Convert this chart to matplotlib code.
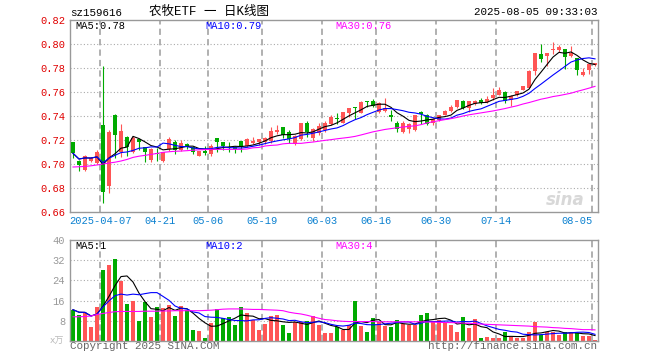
import matplotlib
matplotlib.use("Agg")
import matplotlib.pyplot as plt
import pandas as pd

plt.rcParams['lines.scale_dashes'] = False

W, H = 660, 360
MONO = ['Liberation Mono', 'DejaVu Sans Mono']
RED = '#ff5555'
GREEN = '#00aa00'
GRID = '#aaaaaa'

# candle index of the labelled dates (first candle = 2025-03-28)
date_ticks = [5, 15, 23, 32, 42, 51, 61, 71, 87]
date_labels = ['2025-04-07', '04-21', '05-06', '05-19', '06-03', '06-16', '06-30', '07-14', '08-05']

opens = [0.7183, 0.7028, 0.6953, 0.7028, 0.7006, 0.7327, 0.6820, 0.7410, 0.7100, 0.7225,
         0.7100, 0.7208, 0.7140, 0.7033, 0.7092, 0.7028, 0.7125, 0.7180, 0.7117, 0.7167,
         0.7140, 0.7069, 0.7110, 0.7083, 0.7214, 0.7183, 0.7144, 0.7139, 0.7192, 0.7150,
         0.7175, 0.7183, 0.7183, 0.7192, 0.7267, 0.7308, 0.7267, 0.7167, 0.7210, 0.7344,
         0.7215, 0.7255, 0.7280, 0.7333, 0.7383, 0.7344, 0.7428, 0.7475, 0.7428, 0.7522,
         0.7528, 0.7433, 0.7444, 0.7411, 0.7339, 0.7268, 0.7294, 0.7280, 0.7436, 0.7408,
         0.7339, 0.7365, 0.7408, 0.7439, 0.7475, 0.7528, 0.7467, 0.7503, 0.7536, 0.7514,
         0.7550, 0.7578, 0.7603, 0.7536, 0.7572, 0.7620, 0.7633, 0.7772, 0.7917, 0.7897,
         0.7947, 0.7953, 0.7958, 0.7900, 0.7883, 0.7744, 0.7780, 0.7825]
highs = [0.7185, 0.7030, 0.7072, 0.7060, 0.7117, 0.7818, 0.7285, 0.7420, 0.7333, 0.7235,
         0.7230, 0.7210, 0.7142, 0.7135, 0.7133, 0.7100, 0.7228, 0.7197, 0.7200, 0.7175,
         0.7145, 0.7112, 0.7150, 0.7167, 0.7216, 0.7185, 0.7183, 0.7150, 0.7194, 0.7214,
         0.7222, 0.7208, 0.7222, 0.7311, 0.7322, 0.7310, 0.7283, 0.7244, 0.7344, 0.7360,
         0.7300, 0.7345, 0.7360, 0.7408, 0.7422, 0.7433, 0.7470, 0.7478, 0.7528, 0.7524,
         0.7544, 0.7517, 0.7550, 0.7450, 0.7361, 0.7361, 0.7339, 0.7411, 0.7438, 0.7420,
         0.7380, 0.7411, 0.7447, 0.7494, 0.7536, 0.7531, 0.7525, 0.7533, 0.7550, 0.7570,
         0.7633, 0.7642, 0.7606, 0.7578, 0.7611, 0.7650, 0.7781, 0.7925, 0.8000, 0.7925,
         0.8014, 0.7989, 0.7960, 0.7981, 0.7886, 0.7800, 0.7842, 0.7842]
lows = [0.7047, 0.6944, 0.6945, 0.7020, 0.7000, 0.6678, 0.6762, 0.7050, 0.7060, 0.7070,
        0.7090, 0.7115, 0.7015, 0.7020, 0.7025, 0.7020, 0.7110, 0.7080, 0.7105, 0.7125,
        0.7080, 0.7065, 0.7075, 0.7067, 0.7097, 0.7120, 0.7103, 0.7089, 0.7097, 0.7144,
        0.7167, 0.7158, 0.7167, 0.7172, 0.7250, 0.7214, 0.7172, 0.7158, 0.7200, 0.7225,
        0.7195, 0.7245, 0.7270, 0.7325, 0.7333, 0.7340, 0.7390, 0.7372, 0.7422, 0.7472,
        0.7478, 0.7428, 0.7433, 0.7361, 0.7270, 0.7262, 0.7262, 0.7272, 0.7330, 0.7328,
        0.7328, 0.7355, 0.7405, 0.7435, 0.7467, 0.7458, 0.7431, 0.7495, 0.7500, 0.7508,
        0.7535, 0.7575, 0.7508, 0.7486, 0.7568, 0.7615, 0.7630, 0.7740, 0.7852, 0.7820,
        0.7919, 0.7936, 0.7790, 0.7889, 0.7744, 0.7736, 0.7747, 0.7820]
closes = [0.7089, 0.6994, 0.7069, 0.7047, 0.7097, 0.6770, 0.7270, 0.7243, 0.7278, 0.7145,
          0.7215, 0.7180, 0.7103, 0.7125, 0.7085, 0.7097, 0.7208, 0.7120, 0.7172, 0.7144,
          0.7100, 0.7110, 0.7094, 0.7150, 0.7183, 0.7150, 0.7133, 0.7122, 0.7139, 0.7206,
          0.7192, 0.7206, 0.7217, 0.7275, 0.7283, 0.7242, 0.7206, 0.7235, 0.7342, 0.7268,
          0.7288, 0.7320, 0.7340, 0.7394, 0.7372, 0.7433, 0.7467, 0.7467, 0.7517, 0.7514,
          0.7483, 0.7511, 0.7464, 0.7389, 0.7289, 0.7340, 0.7336, 0.7411, 0.7414, 0.7335,
          0.7372, 0.7410, 0.7443, 0.7479, 0.7531, 0.7467, 0.7522, 0.7528, 0.7508, 0.7544,
          0.7578, 0.7620, 0.7522, 0.7564, 0.7606, 0.7647, 0.7778, 0.7925, 0.7872, 0.7922,
          0.7958, 0.7975, 0.7888, 0.7925, 0.7780, 0.7767, 0.7836, 0.7838]
# MA30 line (it needs days before the visible window)
ma30 = [0.6975, 0.6977, 0.6980, 0.6985, 0.6992, 0.7000, 0.7008, 0.7015, 0.7025, 0.7038,
        0.7055, 0.7065, 0.7072, 0.7080, 0.7088, 0.7097, 0.7102, 0.7106, 0.7108, 0.7111,
        0.7115, 0.7118, 0.7120, 0.7122, 0.7122, 0.7122, 0.7122, 0.7122, 0.7122, 0.7125,
        0.7135, 0.7138, 0.7150, 0.7155, 0.7158, 0.7168, 0.7172, 0.7172, 0.7172, 0.7178,
        0.7183, 0.7190, 0.7197, 0.7203, 0.7210, 0.7216, 0.7222, 0.7230, 0.7242, 0.7255,
        0.7268, 0.7278, 0.7288, 0.7295, 0.7302, 0.7308, 0.7314, 0.7318, 0.7328, 0.7342,
        0.7352, 0.7361, 0.7370, 0.7378, 0.7388, 0.7400, 0.7410, 0.7418, 0.7426, 0.7434,
        0.7442, 0.7452, 0.7462, 0.7474, 0.7485, 0.7500, 0.7512, 0.7526, 0.7540, 0.7550,
        0.7562, 0.7570, 0.7580, 0.7590, 0.7605, 0.7618, 0.7632, 0.7647]

# volume, in 万
volumes = [12.4, 10.4, 11.2, 5.6, 13.6, 28.0, 30.0, 32.4, 23.6, 14.8,
           16.0, 8.0, 15.6, 9.6, 13.6, 13.1, 14.4, 10.0, 14.0, 12.4,
           4.4, 4.0, 1.2, 7.2, 12.8, 9.2, 9.6, 6.4, 13.6, 11.2,
           8.4, 4.4, 6.8, 10.0, 10.4, 6.4, 3.2, 7.6, 7.6, 8.0,
           10.0, 6.4, 3.2, 3.2, 5.6, 4.4, 6.4, 16.0, 6.0, 3.6,
           9.2, 7.6, 6.0, 5.6, 8.4, 6.8, 6.4, 6.4, 10.4, 11.2,
           8.0, 8.4, 7.2, 6.4, 3.6, 9.6, 5.2, 8.8, 1.2, 1.6,
           1.2, 1.2, 3.6, 1.6, 1.2, 1.2, 3.6, 7.6, 2.4, 3.6,
           3.6, 2.4, 3.6, 3.2, 3.2, 2.0, 2.0, 0.4]
vol_ma30 = [9.6, 9.6, 9.7, 9.9, 10.5, 10.9, 11.3, 11.6, 11.7, 11.7,
            11.7, 11.7, 11.8, 11.8, 11.8, 11.9, 11.9, 12.0, 12.0, 12.0,
            12.0, 12.0, 12.1, 12.2, 12.4, 12.6, 12.7, 12.7, 12.7, 12.6,
            12.5, 12.5, 12.4, 12.3, 12.2, 12.0, 11.4, 11.0, 10.7, 10.2,
            9.6, 9.0, 8.5, 8.3, 8.0, 7.8, 7.7, 7.7, 7.7, 7.7,
            7.7, 7.6, 7.6, 7.6, 7.6, 7.6, 7.6, 7.6, 7.6, 7.5,
            7.5, 7.4, 7.3, 7.3, 7.2, 7.1, 7.0, 6.9, 6.7, 6.6,
            6.5, 6.4, 6.3, 6.2, 6.1, 6.0, 5.9, 5.7, 5.6, 5.5,
            5.3, 5.2, 5.0, 4.9, 4.7, 4.5, 4.5, 4.4]

price_ticks = [0.66, 0.68, 0.70, 0.72, 0.74, 0.76, 0.78, 0.80, 0.82]
vol_ticks = [8, 16, 24, 32, 40]

df = pd.DataFrame({'open': opens, 'high': highs, 'low': lows, 'close': closes,
                   'vol': volumes})
x = df.index.values
up = df['close'] >= df['open']
colors = [RED if u else GREEN for u in up]
ma5 = df['close'].rolling(5, min_periods=1).mean()
ma10 = df['close'].rolling(10, min_periods=1).mean()
vma5 = df['vol'].rolling(5, min_periods=1).mean()
vma10 = df['vol'].rolling(10, min_periods=1).mean()


def fx(px):
    return px / W


def fy(py):
    return 1 - py / H


fig = plt.figure(figsize=(6.6, 3.6), dpi=100)
ax1 = fig.add_axes([fx(70), fy(212), fx(528), 192 / H])
ax2 = fig.add_axes([fx(70), fy(341), fx(528), 101 / H])

for ax in (ax1, ax2):
    ax.set_xlim(-0.5, len(x) - 0.5)
    for s in ax.spines.values():
        s.set_color('#999999')
        s.set_linewidth(1.0)
    ax.tick_params(length=0, pad=3.5)
    ax.set_xticks([])
    for t in date_ticks:
        ax.axvline(t - 0.5, color=GRID, lw=1.3, ls=(0, (4.5, 3)), zorder=0)

#### price panel ####
ax1.set_ylim(0.66, 0.82)
ax1.set_yticks(price_ticks)
ax1.set_yticklabels(['%.2f' % v for v in price_ticks], family=MONO, fontsize=7.5,
                    color='#e00000')
for v in price_ticks[1:-1]:
    ax1.axhline(v, color=GRID, lw=0.8, ls=(0, (0.8, 1.6)), zorder=0)

body_bottom = df[['open', 'close']].min(axis=1)
body_h = (df['close'] - df['open']).abs().clip(lower=0.0004)
ax1.vlines(x, df['low'], df['high'], colors=colors, lw=0.8, zorder=2)
ax1.bar(x, body_h, bottom=body_bottom, width=0.83, color=colors, zorder=3)

ax1.plot(x, ma5, color='black', lw=0.8, zorder=4)
ax1.plot(x, ma10, color='#0000ff', lw=0.8, zorder=4)
ax1.plot(x, ma30, color='#ff00ff', lw=0.8, zorder=4)

xt = ax1.get_xaxis_transform()
for i, (t, lab) in enumerate(zip(date_ticks, date_labels)):
    ha = 'right' if i == len(date_ticks) - 1 else 'center'
    xpos = t - 0.4 if ha == 'right' else t - 0.5
    ax1.text(xpos, -0.047, lab, transform=xt, ha=ha, va='center', family=MONO,
             fontsize=7.5, color='#0a80d0')

# sina watermark
ax1.text(0.975, 0.065, 'sina', transform=ax1.transAxes, ha='right', va='center',
         fontsize=12, fontweight='bold', style='italic', color='#d8d8d8', zorder=1)

#### volume panel ####
ax2.set_ylim(0, 40)
ax2.set_yticks(vol_ticks)
ax2.set_yticklabels([str(v) for v in vol_ticks], family=MONO, fontsize=7.5,
                    color='#999999')
for v in vol_ticks[:-1]:
    ax2.axhline(v, color=GRID, lw=0.8, ls=(0, (0.8, 1.6)), zorder=0)
ax2.bar(x, df['vol'], width=0.83, color=colors, zorder=2)
ax2.plot(x, vma5, color='black', lw=0.8, zorder=4)
ax2.plot(x, vma10, color='#0000ff', lw=0.8, zorder=4)
ax2.plot(x, vol_ma30, color='#ff00ff', lw=0.8, zorder=4)

#### texts ####
fig.text(fx(70), fy(13), 'sz159616', family=MONO, fontsize=7.8, va='center')
fig.text(fx(209), fy(12), '农牧ETF 一 日K线图', family=['Liberation Mono', 'Noto Sans CJK SC'],
         fontsize=9, ha='center', va='center')
fig.text(fx(597), fy(12), '2025-08-05 09:33:03', family=MONO, fontsize=7.8,
         ha='right', va='center')

fig.text(fx(75), fy(26), 'MA5:0.78', family=MONO, fontsize=7.5, va='center', color='black')
fig.text(fx(205), fy(26), 'MA10:0.79', family=MONO, fontsize=7.5, va='center', color='#0000ff')
fig.text(fx(335), fy(26), 'MA30:0.76', family=MONO, fontsize=7.5, va='center', color='#ff00ff')
fig.text(fx(75), fy(246), 'MA5:1', family=MONO, fontsize=7.5, va='center', color='black')
fig.text(fx(205), fy(246), 'MA10:2', family=MONO, fontsize=7.5, va='center', color='#0000ff')
fig.text(fx(335), fy(246), 'MA30:4', family=MONO, fontsize=7.5, va='center', color='#ff00ff')

fig.text(fx(64), fy(341), 'x万', family=['DejaVu Sans', 'Noto Sans CJK SC'], fontsize=6.5,
         ha='right', va='center', color='#bbbbbb')
fig.text(fx(70), fy(346), 'Copyright 2025 SINA.COM', family=MONO, fontsize=7.8,
         va='center', color='#666666')
fig.text(fx(597), fy(346), 'http://finance.sina.com.cn', family=MONO, fontsize=7.8,
         ha='right', va='center', color='#666666')

fig.savefig('out.png', dpi=100)
